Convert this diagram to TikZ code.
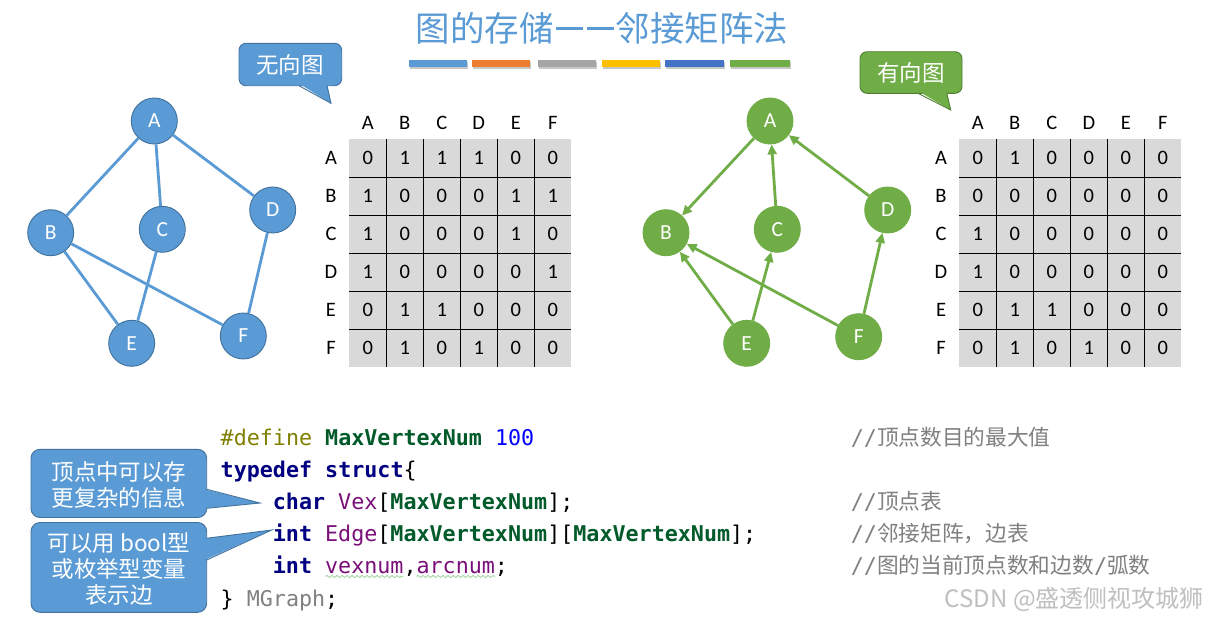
\documentclass[tikz,border=0pt]{standalone}
\usepackage{fontspec}
\setmainfont{Carlito}
\newfontfamily\cjk{Noto Sans CJK SC}
\newfontfamily\mono{DejaVu Sans Mono}
\usetikzlibrary{arrows.meta,decorations.pathmorphing}
\definecolor{ublue}{HTML}{5B9BD5}
\definecolor{ubluedk}{HTML}{41719C}
\definecolor{dgreen}{HTML}{70AD47}
\definecolor{dgreendk}{HTML}{507E32}
\definecolor{cellgray}{HTML}{D9D9D9}
\definecolor{barA}{HTML}{5B9BD5}
\definecolor{barB}{HTML}{ED7D31}
\definecolor{barC}{HTML}{A5A5A5}
\definecolor{barD}{HTML}{FFC000}
\definecolor{barE}{HTML}{4472C4}
\definecolor{barF}{HTML}{70AD47}
\definecolor{cdef}{HTML}{808000}
\definecolor{cmac}{HTML}{005A2A}
\definecolor{cnum}{HTML}{0000FF}
\definecolor{ckey}{HTML}{000080}
\definecolor{cvar}{HTML}{7A0F7A}
\definecolor{cgray}{HTML}{808080}
\definecolor{cwave}{HTML}{9ED49E}
\begin{document}
\begin{tikzpicture}[x=1pt,y=-1pt,
  vtxb/.style={circle,minimum size=46pt,inner sep=0pt,fill=ublue,draw=ubluedk,line width=0.9pt,text=white,font=\fontsize{21.5}{25}\selectfont},
  vtxg/.style={vtxb,fill=dgreen,draw=dgreen},
  ued/.style={ublue,line width=2.8pt},
  ded/.style={dgreen,line width=2.8pt,-{Triangle[length=10pt,width=9pt]}},
  cell/.style={inner sep=0pt,font=\fontsize{20.5}{24}\selectfont},
  gridl/.style={black,line width=1.1pt},
  code/.style={inner sep=0pt,anchor=base west,font=\mono\fontsize{21.7}{26}\selectfont},
  cmt/.style={inner sep=0pt,anchor=base west,text=cgray,font=\fontsize{21.7}{26}\selectfont},
  ctext/.style={inner sep=0pt,text=white,align=center,font=\cjk\fontsize{22.5}{27}\selectfont},
  wavy/.style={cwave,line width=0.8pt,decorate,decoration={snake,amplitude=1.1pt,segment length=5pt}}
]
\useasboundingbox (0,0) rectangle (1208,621);
\fill[white] (0,0) rectangle (1208,621);

% title
\node[inner sep=0pt,text=ublue,font=\cjk\fontsize{34.5}{40}\selectfont] (title) at (602,28) {图的存储\hspace{2pt}\rule[0.33em]{27pt}{2.3pt}\hspace{4pt}\rule[0.33em]{27pt}{2.3pt}\hspace{2pt}邻接矩阵法};
\foreach \a/\b/\c in {408.8/467.3/barA,472.3/530.4/barB,537.7/595.8/barC,601.9/660/barD,665.4/724.2/barE,730/789.6/barF}{
  \fill[black!22] (\a+1,62) rectangle (\b+1,69);
  \fill[\c] (\a,60) rectangle (\b,67);
}

% callout: undirected
\draw[fill=ublue,draw=ubluedk,line width=0.9pt,rounded corners=7pt] (239,43.3) rectangle (341.7,85.7);
\fill[ublue] (299,83.5) -- (331,103.3) -- (327,83.5) -- cycle;
\draw[ubluedk,line width=0.9pt] (299,85.7) -- (331,103.3) -- (327,85.7);
\node[ctext] (undir) at (290,65) {无向图};

% callout: directed
\draw[fill=dgreen,draw=dgreendk,line width=0.9pt,rounded corners=7pt] (860,51.7) rectangle (962,93.3);
\fill[dgreen] (918,91) -- (950.7,110) -- (946.7,91) -- cycle;
\draw[dgreendk,line width=0.9pt] (918,93.3) -- (950.7,110) -- (946.7,93.3);
\node[ctext] (dir) at (911,73) {有向图};

% undirected graph
\node[vtxb] (A) at (154.3,121) {A};
\node[vtxb] (B) at (50.7,232.7) {B};
\node[vtxb] (C) at (162.3,229.3) {C};
\node[vtxb] (D) at (272.7,210) {D};
\node[vtxb] (E) at (131.7,343.3) {E};
\node[vtxb] (F) at (243.3,336) {F};
\draw[ued] (A) -- (B);
\draw[ued] (A) -- (C);
\draw[ued] (A) -- (D);
\draw[ued] (B) -- (E);
\draw[ued] (B) -- (F);
\draw[ued] (C) -- (E);
\draw[ued] (D) -- (F);

% directed graph
\node[vtxg] (gA) at (770,121) {A};
\node[vtxg] (gB) at (666,232.7) {B};
\node[vtxg] (gC) at (777.3,229.3) {C};
\node[vtxg] (gD) at (887.7,210) {D};
\node[vtxg] (gE) at (746.7,343.3) {E};
\node[vtxg] (gF) at (858.7,336.7) {F};
\draw[ded] (gA) -- (gB);
\draw[ded] (gC) -- (gA);
\draw[ded] (gD) -- (gA);
\draw[ded] (gE) -- (gB);
\draw[ded] (gE) -- (gC);
\draw[ded] (gF) -- (gB);
\draw[ded] (gF) -- (gD);

% matrices
\fill[cellgray] (349.3,139.3) rectangle (571.3,367.3);
\fill[cellgray] (959.3,139.3) rectangle (1181.3,367.3);
\foreach \k in {1,...,5}{
  \draw[gridl] ({349.3+37*\k},139.3) -- ({349.3+37*\k},367.3);
  \draw[gridl] (349.3,{139.3+38*\k}) -- (571.3,{139.3+38*\k});
  \draw[gridl] ({959.3+37*\k},139.3) -- ({959.3+37*\k},367.3);
  \draw[gridl] (959.3,{139.3+38*\k}) -- (1181.3,{139.3+38*\k});
}
\foreach \l [count=\i] in {A,B,C,D,E,F}{
  \node[cell] (LH\l) at ({349.3+37*\i-18.5},123) {\l};
  \node[cell] (LR\l) at (331,{139.3+38*\i-19}) {\l};
  \node[cell] (RH\l) at ({959.3+37*\i-18.5},123) {\l};
  \node[cell] (RR\l) at (941,{139.3+38*\i-19}) {\l};
}
\foreach \vals [count=\r] in {{0,1,1,1,0,0},{1,0,0,0,1,1},{1,0,0,0,1,0},{1,0,0,0,0,1},{0,1,1,0,0,0},{0,1,0,1,0,0}}{
  \foreach \v [count=\c] in \vals{
    \node[cell] (L\r-\c) at ({349.3+37*\c-18.5},{139.3+38*\r-19}) {\v};
  }
}
\foreach \vals [count=\r] in {{0,1,0,0,0,0},{0,0,0,0,0,0},{1,0,0,0,0,0},{1,0,0,0,0,0},{0,1,1,0,0,0},{0,1,0,1,0,0}}{
  \foreach \v [count=\c] in \vals{
    \node[cell] (R\r-\c) at ({959.3+37*\c-18.5},{139.3+38*\r-19}) {\v};
  }
}

% code
\node[code] (l1) at (220.5,445) {\textcolor{cdef}{\#define} \textcolor{cmac}{\bfseries MaxVertexNum} \textcolor{cnum}{100}};
\node[code] (l2) at (220.5,477) {\textcolor{ckey}{\bfseries typedef} \textcolor{ckey}{\bfseries struct}\{};
\node[code] (l3) at (272.7,509.5) {\textcolor{ckey}{\bfseries char} \textcolor{cvar}{Vex}[\textcolor{cmac}{\bfseries MaxVertexNum}];};
\node[code] (l4) at (272.7,541) {\textcolor{ckey}{\bfseries int} \textcolor{cvar}{Edge}[\textcolor{cmac}{\bfseries MaxVertexNum}][\textcolor{cmac}{\bfseries MaxVertexNum}];};
\node[code] (l5) at (272.7,573) {\textcolor{ckey}{\bfseries int} \textcolor{cvar}{vexnum},\textcolor{cvar}{arcnum};};
\node[code] (l6) at (220.5,606) {\} \textcolor{cgray}{MGraph};};
\draw[wavy] (325.5,576.5) -- (403,576.5);
\draw[wavy] (416.5,576.5) -- (495,576.5);

\node[cmt] (c1) at (850.7,445) {{\mono //}{\cjk 顶点数目的最大值}};
\node[cmt] (c3) at (850.7,509.5) {{\mono //}{\cjk 顶点表}};
\node[cmt] (c4) at (850.7,541) {{\mono //}{\cjk 邻接矩阵，边表}};
\node[cmt] (c5) at (850.7,573) {{\mono //}{\cjk 图的当前顶点数和边数}{\mono /}{\cjk 弧数}};

% code callouts
\draw[fill=ublue,draw=ubluedk,line width=0.9pt,rounded corners=9pt] (31,449.3) rectangle (206.7,517.5);
\fill[ublue] (204.5,489.3) -- (260,503) -- (204.5,508.3) -- cycle;
\draw[ubluedk,line width=0.9pt] (206.7,489.3) -- (260,503) -- (206.7,508.3);
\node[ctext] (cb1) at (119,484.5) {顶点中可以存\\[-1pt]更复杂的信息};

\draw[fill=ublue,draw=ubluedk,line width=0.9pt,rounded corners=9pt] (31,522.5) rectangle (206.7,612.3);
\fill[ublue] (204.5,538.3) -- (271.7,530) -- (204.5,560) -- cycle;
\draw[ubluedk,line width=0.9pt] (206.7,538.3) -- (271.7,530) -- (206.7,560);
\node[ctext] (cb2) at (119,569) {可以用 bool型\\[-1pt]或枚举型变量\\[-1pt]表示边};

% watermark
\node[inner sep=0pt,anchor=base east,text=black!25,font=\cjk\fontsize{24}{28}\selectfont] (wm) at (1204,607) {CSDN @盛透侧视攻城狮};
\end{tikzpicture}
\end{document}
